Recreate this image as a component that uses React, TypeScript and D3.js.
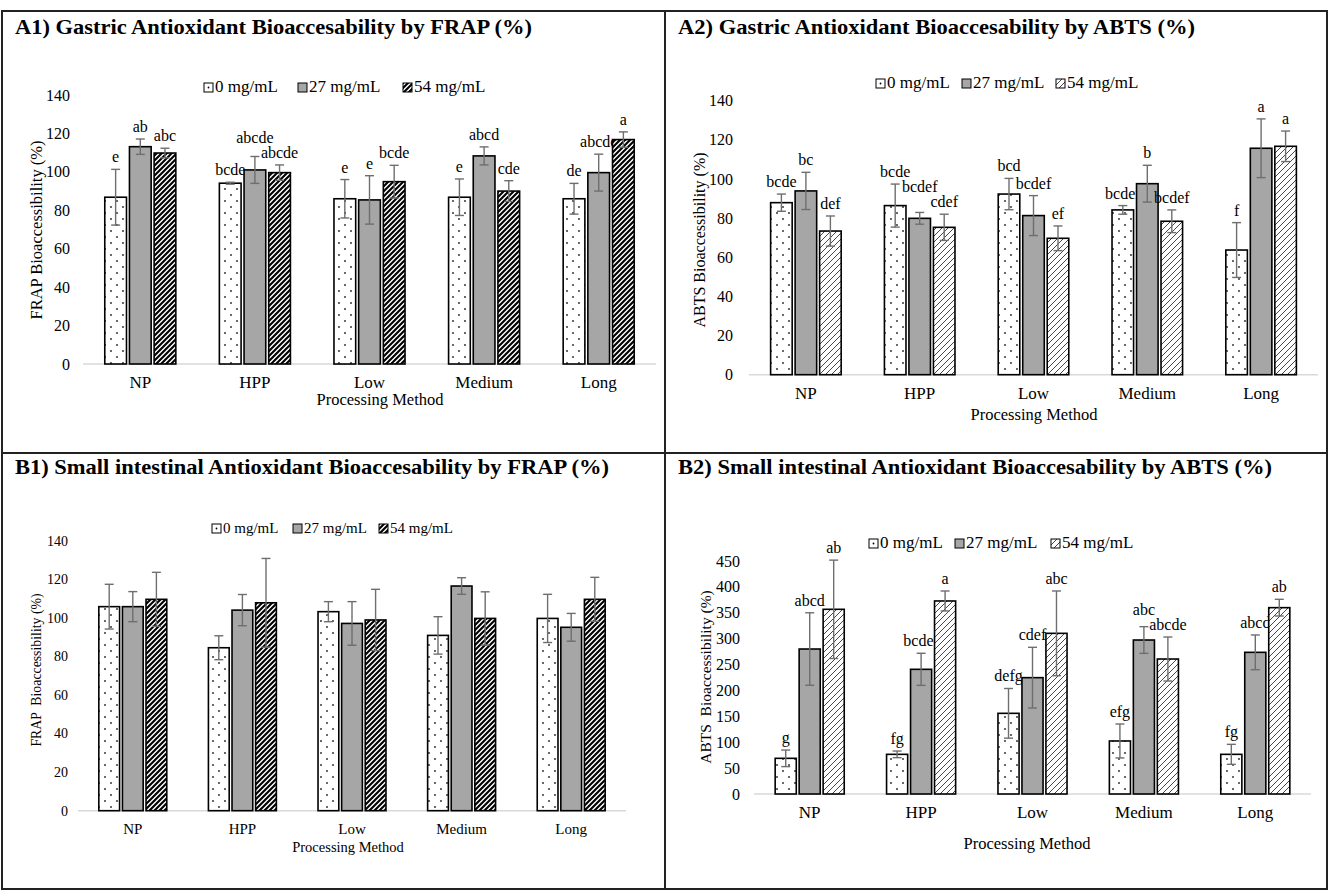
import React from "react";
import * as d3 from "d3";

const categories = ["NP", "HPP", "Low", "Medium", "Long"];
const seriesNames = ["0 mg/mL", "27 mg/mL", "54 mg/mL"];

// A1) gastric, FRAP
const a1Values = [
  [86.8, 94.1, 86, 86.8, 86],
  [113.1, 101, 85.4, 108.3, 99.6],
  [109.8, 99.6, 94.9, 90, 116.8],
];
const a1Errors = [
  [14.5, 0.5, 10, 9.5, 8],
  [4, 7, 12.6, 4.7, 9.6],
  [2.5, 4, 8.5, 5.4, 4],
];
const a1Letters = [
  ["e", "bcde", "e", "e", "de"],
  ["ab", "abcde", "e", "abcd", "abcde"],
  ["abc", "abcde", "bcde", "cde", "a"],
];

// A2) gastric, ABTS
const a2Values = [
  [87.9, 86.4, 92.3, 84.2, 63.7],
  [93.9, 79.9, 81.3, 97.6, 115.7],
  [73.4, 75.3, 69.7, 78.4, 116.7],
];
const a2Errors = [
  [4.4, 11, 8, 2.2, 14],
  [9.5, 3, 10.2, 9.4, 15],
  [7.7, 6.7, 6.3, 5.8, 7.8],
];
const a2Letters = [
  ["bcde", "bcde", "bcd", "bcdef", "f"],
  ["bc", "bcdef", "bcdef", "b", "a"],
  ["def", "cdef", "ef", "bcdef", "a"],
];

// B1) small intestinal, FRAP (no letters)
const b1Values = [
  [105.8, 84.5, 103.2, 90.9, 99.7],
  [105.8, 104, 97.1, 116.5, 95.1],
  [109.6, 107.8, 98.9, 99.7, 109.6],
];
const b1Errors = [
  [11.6, 6.2, 5.2, 9.7, 12.5],
  [7.8, 8.1, 11.3, 4.3, 7.2],
  [14, 23, 15.9, 13.8, 11.4],
];

// B2) small intestinal, ABTS
const b2Values = [
  [68.9, 76.6, 155.8, 102.4, 76.6],
  [280, 240.8, 224.7, 297.4, 273.6],
  [356.7, 372.8, 310.3, 260.7, 359.9],
];
const b2Errors = [
  [16, 6.4, 48, 32.8, 19.3],
  [70, 31, 58.6, 25.8, 33.5],
  [95, 19.3, 81.8, 42.5, 16.1],
];
const b2Letters = [
  ["g", "fg", "defg", "efg", "fg"],
  ["abcd", "bcdef", "cdef", "abc", "abcd"],
  ["ab", "a", "abc", "abcde", "ab"],
];

const FONT = "Liberation Serif, DejaVu Serif, serif";
const LETTER_FS = 16;

const panels = [
  {
    id: "a1", title: "A1) Gastric Antioxidant Bioaccesability by FRAP (%)",
    titleX: 15, titleY: 34, titleLen: 517,
    yLabel: "FRAP Bioaccessibility (%)", yLabelX: 36, yLabelY: 230, yLabelSize: 16.5,
    values: a1Values, errors: a1Errors, letters: a1Letters,
    left: 83, right: 656, base: 364, top: 95, yMax: 140, yStep: 20, tickX: 70, fs: 16,
    catY: 388, xTitleX: 380, xTitleY: 405,
    legendY: 92, legendX: [204, 298, 403], legendFs: 17, hatch: "bold",
  },
  {
    id: "a2", title: "A2) Gastric Antioxidant Bioaccesability by ABTS (%)",
    titleX: 678, titleY: 34, titleLen: 517,
    yLabel: "ABTS Bioaccessibility (%)", yLabelX: 699, yLabelY: 240, yLabelSize: 16,
    values: a2Values, errors: a2Errors, letters: a2Letters,
    left: 749, right: 1318, base: 374.7, top: 100.7, yMax: 140, yStep: 20, tickX: 733, fs: 16,
    catY: 399, xTitleX: 1034, xTitleY: 420,
    legendY: 88, legendX: [876, 962, 1056], legendFs: 17, hatch: "thin",
  },
  {
    id: "b1", title: "B1) Small intestinal Antioxidant Bioaccesability by FRAP (%)",
    titleX: 15, titleY: 474, titleLen: 594,
    yLabel: "FRAP  Bioaccessibility (%)", yLabelX: 36, yLabelY: 670, yLabelSize: 13.8,
    values: b1Values, errors: b1Errors, letters: null,
    left: 78, right: 626, base: 810.7, top: 540.7, yMax: 140, yStep: 20, tickX: 68, fs: 14,
    catY: 834, xTitleX: 348, xTitleY: 852,
    legendY: 533, legendX: [212, 293, 379], legendFs: 15, hatch: "bold",
  },
  {
    id: "b2", title: "B2) Small intestinal Antioxidant Bioaccesability by ABTS (%)",
    titleX: 678, titleY: 474, titleLen: 594,
    yLabel: "ABTS  Bioaccessibility (%)", yLabelX: 706, yLabelY: 677, yLabelSize: 15.5,
    values: b2Values, errors: b2Errors, letters: b2Letters,
    left: 754, right: 1311, base: 794, top: 561, yMax: 450, yStep: 50, tickX: 740, fs: 16,
    catY: 818, xTitleX: 1027, xTitleY: 849,
    legendY: 548, legendX: [869, 955, 1051], legendFs: 17, hatch: "thin",
  },
];

function fillFor(i, hatch) {
  if (i === 0) return "url(#dots)";
  if (i === 1) return "#a6a6a6";
  return hatch === "bold" ? "url(#hatchBold)" : "url(#hatchThin)";
}

function Panel({ p }) {
  const x0 = d3.scaleBand().domain(categories).range([p.left, p.right])
    .paddingInner(0.38).paddingOuter(0.19);
  const x1 = d3.scaleBand().domain(seriesNames).range([0, x0.bandwidth()]).paddingInner(0.12);
  const y = d3.scaleLinear().domain([0, p.yMax]).range([p.base, p.top]);
  const ticks = d3.range(0, p.yMax + 1, p.yStep);

  // letter label positions per group; a label that would collide with the one on its right is raised
  const labelPos = categories.map((c, ci) => {
    const pos = seriesNames.map((s, si) => ({
      x: x0(c) + x1(s) + x1.bandwidth() / 2,
      y: y(p.values[si][ci] + p.errors[si][ci]) - 7,
      w: p.letters ? p.letters[si][ci].length * 0.47 * LETTER_FS : 0,
    }));
    for (let i = pos.length - 2; i >= 0; i--) {
      const a = pos[i], b = pos[i + 1];
      const hOverlap = b.x - a.x < (a.w + b.w) / 2;
      if (hOverlap && Math.abs(a.y - b.y) < 15) a.y = Math.min(a.y, b.y - 15);
    }
    return pos;
  });

  return (
    <g>
      <text x={p.titleX} y={p.titleY} fontSize={22} fontWeight="bold"
        textLength={p.titleLen} lengthAdjust="spacingAndGlyphs">{p.title}</text>

      {/* legend */}
      {seriesNames.map((s, i) => (
        <g key={s} transform={`translate(${p.legendX[i]},${p.legendY - 9})`}>
          <rect width={9} height={9} fill={i === 0 ? "#fff" : fillFor(i, p.hatch)}
            stroke="#000" strokeWidth={1} />
          {i === 0 && <circle cx={4.5} cy={4.5} r={0.9} fill="#000" />}
          <text x={11} y={9} fontSize={p.legendFs}>{s}</text>
        </g>
      ))}

      {/* y ticks */}
      {ticks.map((t) => (
        <text key={t} x={p.tickX} y={y(t)} dy="0.35em" textAnchor="end" fontSize={p.fs}>{t}</text>
      ))}
      <text transform={`translate(${p.yLabelX},${p.yLabelY}) rotate(-90)`} textAnchor="middle"
        fontSize={p.yLabelSize} dy="0.35em" style={{ whiteSpace: "pre" }}>{p.yLabel}</text>

      <line x1={p.left} x2={p.right} y1={p.base} y2={p.base} stroke="#d9d9d9" strokeWidth={1.6} />

      {categories.map((c, ci) => (
        <g key={c}>
          {seriesNames.map((s, si) => {
            const v = p.values[si][ci];
            const e = p.errors[si][ci];
            const bx = x0(c) + x1(s);
            const cx = bx + x1.bandwidth() / 2;
            const lp = labelPos[ci][si];
            return (
              <g key={s}>
                <rect x={bx} y={y(v)} width={x1.bandwidth()} height={p.base - y(v)}
                  fill={fillFor(si, p.hatch)} stroke="#000" strokeWidth={1.6} />
                <g stroke="#6e6e6e" strokeWidth={1.4}>
                  <line x1={cx} x2={cx} y1={y(v - e)} y2={y(v + e)} />
                  <line x1={cx - 4.5} x2={cx + 4.5} y1={y(v + e)} y2={y(v + e)} />
                  <line x1={cx - 4.5} x2={cx + 4.5} y1={y(v - e)} y2={y(v - e)} />
                </g>
                {p.letters && (
                  <text x={lp.x} y={lp.y} textAnchor="middle" fontSize={LETTER_FS}>
                    {p.letters[si][ci]}
                  </text>
                )}
              </g>
            );
          })}
          <text x={x0(c) + x0.bandwidth() / 2} y={p.catY} textAnchor="middle" fontSize={p.fs + 1}>{c}</text>
        </g>
      ))}
      <text x={p.xTitleX} y={p.xTitleY} textAnchor="middle" fontSize={p.fs + 0.5}>Processing Method</text>
    </g>
  );
}

export default function App() {
  return (
    <svg width={1331} height={891}
      style={{ position: "absolute", left: 0, top: 0, background: "#fff", fontFamily: FONT }}>
      <defs>
        <pattern id="dots" patternUnits="userSpaceOnUse" width={12} height={12}>
          <rect width={12} height={12} fill="#fff" />
          <circle cx={3} cy={3} r={0.9} fill="#222" />
          <circle cx={9} cy={9} r={0.9} fill="#222" />
        </pattern>
        <pattern id="hatchBold" patternUnits="userSpaceOnUse" width={5} height={5}>
          <rect width={5} height={5} fill="#fff" />
          <path d="M-1,1 l2,-2 M0,5 l5,-5 M4,6 l2,-2" stroke="#000" strokeWidth={2.1} />
        </pattern>
        <pattern id="hatchThin" patternUnits="userSpaceOnUse" width={6} height={6}>
          <rect width={6} height={6} fill="#fff" />
          <path d="M-1,1 l2,-2 M0,6 l6,-6 M5,7 l2,-2" stroke="#333" strokeWidth={0.9} />
        </pattern>
      </defs>
      <rect x={2} y={11} width={1325} height={878} fill="none" stroke="#222" strokeWidth={2} />
      <line x1={665} x2={665} y1={11} y2={889} stroke="#222" strokeWidth={2} />
      <line x1={2} x2={1327} y1={453} y2={453} stroke="#222" strokeWidth={2} />
      {panels.map((p) => <Panel key={p.id} p={p} />)}
    </svg>
  );
}
